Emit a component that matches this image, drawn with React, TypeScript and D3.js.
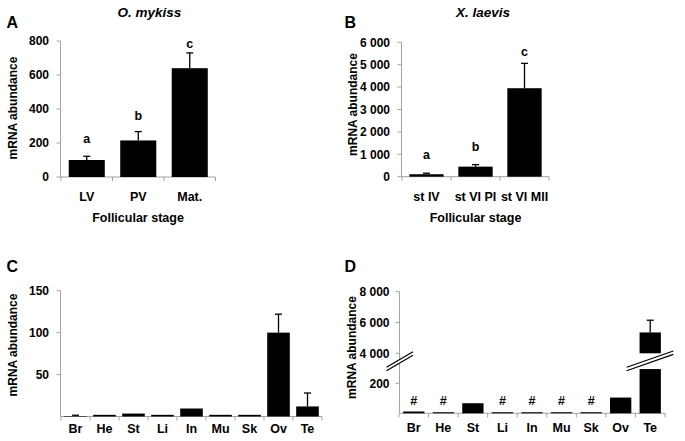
import React from "react";
import * as d3 from "d3";

// ---------- data ----------
const stagesA = ["LV", "PV", "Mat."];
const meanA = [100, 215, 640];
const errA = [22, 52, 90];
const sigA = ["a", "b", "c"];
const sigPosA = [202, 335, 757];
const ticksA = [0, 200, 400, 600, 800];

const stagesB = ["st IV", "st VI PI", "st VI MII"];
const meanB = [110, 450, 3950];
const errB = [45, 90, 1110];
const sigB = ["a", "b", "c"];
const sigPosB = [790, 1160, 5390];
const ticksB = [0, 1000, 2000, 3000, 4000, 5000, 6000];

const tissues = ["Br", "He", "St", "Li", "In", "Mu", "Sk", "Ov", "Te"];
const meanC = [0.6, 2, 3.5, 2, 9.5, 2, 2, 100, 12];
const errC = [0.9, 0, 0, 0, 0, 0, 0, 22, 16];
const ticksC = [50, 100, 150];

const meanD = [12, 7, 67, 7, 7, 7, 7, 105, 5355];
const errD = [0, 0, 0, 0, 0, 0, 0, 0, 793];
const sigD = ["#", "#", "", "#", "#", "#", "#", "", ""];
const sigPosD = 55;
const ticksDLow = [200];
const ticksDHigh = [4000, 6000, 8000];
const breakLowTop = 295;
const breakHighBottom = 4000;

// ---------- style ----------
const FONT = "'Liberation Sans', Arial, sans-serif";
const AXIS = "#a3a3a3";
const fmt = d3.formatLocale({ thousands: " ", grouping: [3], decimal: ".", currency: ["", ""] }).format(",");

type PanelProps = {
  cats: string[];
  means: number[];
  errs: number[];
  y: (v: number) => number;
  yTicks: number[];
  x0: number;
  x1: number;
  pad: number;
  labelRight: number;
  sig?: string[];
  sigPos?: number[];
  catLabelY: number;
};

function BarPanel(p: PanelProps) {
  const x = d3
    .scaleBand<string>()
    .domain(p.cats)
    .range([p.x0, p.x1])
    .paddingInner(p.pad)
    .paddingOuter(p.pad / 2);
  const step = x.step();
  const base = p.y(0);
  const yTop = p.y(d3.max(p.yTicks) as number);
  return (
    <g>
      {/* y axis */}
      <line x1={p.x0 - 0.5} x2={p.x0 - 0.5} y1={yTop} y2={base} stroke={AXIS} strokeWidth={1} />
      {p.yTicks.map((t) => (
        <g key={"yt" + t}>
          <line x1={p.x0 - 4.5} x2={p.x0 - 0.5} y1={p.y(t)} y2={p.y(t)} stroke={AXIS} />
          <text x={p.labelRight} y={p.y(t)} dy="0.35em" textAnchor="end" fontSize={12} fontWeight="bold" fontFamily={FONT}>
            {fmt(t)}
          </text>
        </g>
      ))}
      {/* x axis */}
      <line x1={p.x0 - 0.5} x2={p.x1} y1={base} y2={base} stroke={AXIS} />
      {d3.range(p.cats.length + 1).map((i) => (
        <line key={"xt" + i} x1={p.x0 + i * step} x2={p.x0 + i * step} y1={base} y2={base + 4} stroke={AXIS} />
      ))}
      {/* bars */}
      {p.cats.map((c, i) => {
        const bx = x(c) as number;
        const bw = x.bandwidth();
        const top = p.y(p.means[i]);
        const cx = bx + bw / 2;
        const et = p.y(p.means[i] + p.errs[i]);
        return (
          <g key={c}>
            <rect x={bx} y={top} width={bw} height={base - top} fill="#000" />
            {p.errs[i] > 0 && (
              <g stroke="#000" strokeWidth={1.3}>
                <line x1={cx} x2={cx} y1={top} y2={et} />
                <line x1={cx - 3.5} x2={cx + 3.5} y1={et} y2={et} />
              </g>
            )}
            {p.sig && p.sigPos && (
              <text x={cx} y={p.y(p.sigPos[i])} textAnchor="middle" fontSize={12.5} fontWeight="bold" fontFamily={FONT}>
                {p.sig[i]}
              </text>
            )}
            <text x={cx} y={p.catLabelY} textAnchor="middle" fontSize={12.5} fontWeight="bold" fontFamily={FONT}>
              {c}
            </text>
          </g>
        );
      })}
    </g>
  );
}

function PanelD() {
  const x0 = 399,
    x1 = 665,
    pad = 0.28;
  const yLow = d3.scaleLinear().domain([0, 200]).range([413.3, 383.3]);
  const yHigh = d3.scaleLinear().domain([4000, 8000]).range([353.3, 291.7]);
  const x = d3.scaleBand<string>().domain(tissues).range([x0, x1]).paddingInner(pad).paddingOuter(pad / 2);
  const step = x.step();
  const base = yLow(0);
  const allTicks = [...ticksDLow.map((t) => ({ t, y: yLow(t) })), ...ticksDHigh.map((t) => ({ t, y: yHigh(t) }))];
  const sigY = yLow(sigPosD);
  const breakMark = (ax: number, ay: number, bx: number, by: number, key: string) => (
    <g key={key}>
      <polygon points={`${ax},${ay - 1.7} ${bx},${by - 1.7} ${bx},${by + 1.7} ${ax},${ay + 1.7}`} fill="#fff" />
      <line x1={ax} y1={ay - 1.7} x2={bx} y2={by - 1.7} stroke="#000" strokeWidth={1.2} />
      <line x1={ax} y1={ay + 1.7} x2={bx} y2={by + 1.7} stroke="#000" strokeWidth={1.2} />
    </g>
  );
  return (
    <g>
      <line x1={x0 + 0.5} x2={x0 + 0.5} y1={yHigh(8000)} y2={base} stroke={AXIS} />
      {allTicks.map(({ t, y }) => (
        <g key={"d" + t}>
          <line x1={x0 - 3.5} x2={x0 + 0.5} y1={y} y2={y} stroke={AXIS} />
          <text x={389.5} y={y} dy="0.35em" textAnchor="end" fontSize={12} fontWeight="bold" fontFamily={FONT}>
            {fmt(t)}
          </text>
        </g>
      ))}
      <line x1={x0 + 0.5} x2={x1} y1={base} y2={base} stroke={AXIS} />
      {d3.range(tissues.length + 1).map((i) => (
        <line key={"dx" + i} x1={x0 + i * step} x2={x0 + i * step} y1={base} y2={base + 4} stroke={AXIS} />
      ))}
      {tissues.map((c, i) => {
        const bx = x(c) as number;
        const bw = x.bandwidth();
        const cx = bx + bw / 2;
        const v = meanD[i];
        const broken = v > breakHighBottom;
        const lowTop = broken ? yLow(breakLowTop) : yLow(v);
        return (
          <g key={c}>
            <rect x={bx} y={lowTop} width={bw} height={base - lowTop} fill="#000" />
            {broken && (
              <rect x={bx} y={yHigh(v)} width={bw} height={yHigh(breakHighBottom) - yHigh(v)} fill="#000" />
            )}
            {errD[i] > 0 && (
              <g stroke="#000" strokeWidth={1.3}>
                <line x1={cx} x2={cx} y1={yHigh(v)} y2={yHigh(v + errD[i])} />
                <line x1={cx - 3.5} x2={cx + 3.5} y1={yHigh(v + errD[i])} y2={yHigh(v + errD[i])} />
              </g>
            )}
            {sigD[i] && (
              <text x={cx} y={sigY} textAnchor="middle" fontSize={12.5} fontWeight="bold" fontFamily={FONT}>
                {sigD[i]}
              </text>
            )}
            <text x={cx} y={432} textAnchor="middle" fontSize={12.5} fontWeight="bold" fontFamily={FONT}>
              {c}
            </text>
          </g>
        );
      })}
      {breakMark(386.5, 369, 413, 353.5, "bl")}
      {breakMark(626.7, 369, 673.3, 352.7, "br")}
    </g>
  );
}

const yLabel = (x: number, cy: number) => (
  <text transform={`translate(${x},${cy}) rotate(-90)`} textAnchor="middle" fontSize={12} fontWeight="bold" fontFamily={FONT}>
    mRNA abundance
  </text>
);

export default function App() {
  const yA = d3.scaleLinear().domain([0, 800]).range([177, 41]);
  const yB = d3.scaleLinear().domain([0, 6000]).range([176.7, 42.3]);
  const yC = d3.scaleLinear().domain([0, 150]).range([416.5, 290.7]);
  return (
    <svg width={685} height={441} style={{ position: "absolute", left: 0, top: 0, background: "#fff" }}>
      <rect width={685} height={441} fill="#fff" />
      {/* Panel A */}
      <text x={6.5} y={28.3} fontSize={16} fontWeight="bold" fontFamily={FONT}>A</text>
      <text x={149.5} y={17} textAnchor="middle" fontSize={13.5} fontWeight="bold" fontStyle="italic" fontFamily={FONT}>O. mykiss</text>
      {yLabel(16.5, 108)}
      <BarPanel cats={stagesA} means={meanA} errs={errA} y={yA} yTicks={ticksA} x0={61} x1={215.5} pad={0.3} labelRight={49} sig={sigA} sigPos={sigPosA} catLabelY={201} />
      <text x={138} y={221.5} textAnchor="middle" fontSize={12.5} fontWeight="bold" fontFamily={FONT}>Follicular stage</text>

      {/* Panel B */}
      <text x={344.5} y={28.3} fontSize={16} fontWeight="bold" fontFamily={FONT}>B</text>
      <text x={483} y={17} textAnchor="middle" fontSize={13.5} fontWeight="bold" fontStyle="italic" fontFamily={FONT}>X. laevis</text>
      {yLabel(356.5, 104.5)}
      <BarPanel cats={stagesB} means={meanB} errs={errB} y={yB} yTicks={ticksB} x0={402} x1={549} pad={0.3} labelRight={390} sig={sigB} sigPos={sigPosB} catLabelY={201} />
      <text x={475.5} y={221.5} textAnchor="middle" fontSize={12.5} fontWeight="bold" fontFamily={FONT}>Follicular stage</text>

      {/* Panel C */}
      <text x={6.5} y={271.7} fontSize={16} fontWeight="bold" fontFamily={FONT}>C</text>
      {yLabel(16.5, 345)}
      <BarPanel cats={tissues} means={meanC} errs={errC} y={yC} yTicks={ticksC} x0={61} x1={322} pad={0.22} labelRight={49} catLabelY={432.5} />

      {/* Panel D */}
      <text x={344.5} y={271.7} fontSize={16} fontWeight="bold" fontFamily={FONT}>D</text>
      {yLabel(355.5, 347.5)}
      <PanelD />
    </svg>
  );
}
